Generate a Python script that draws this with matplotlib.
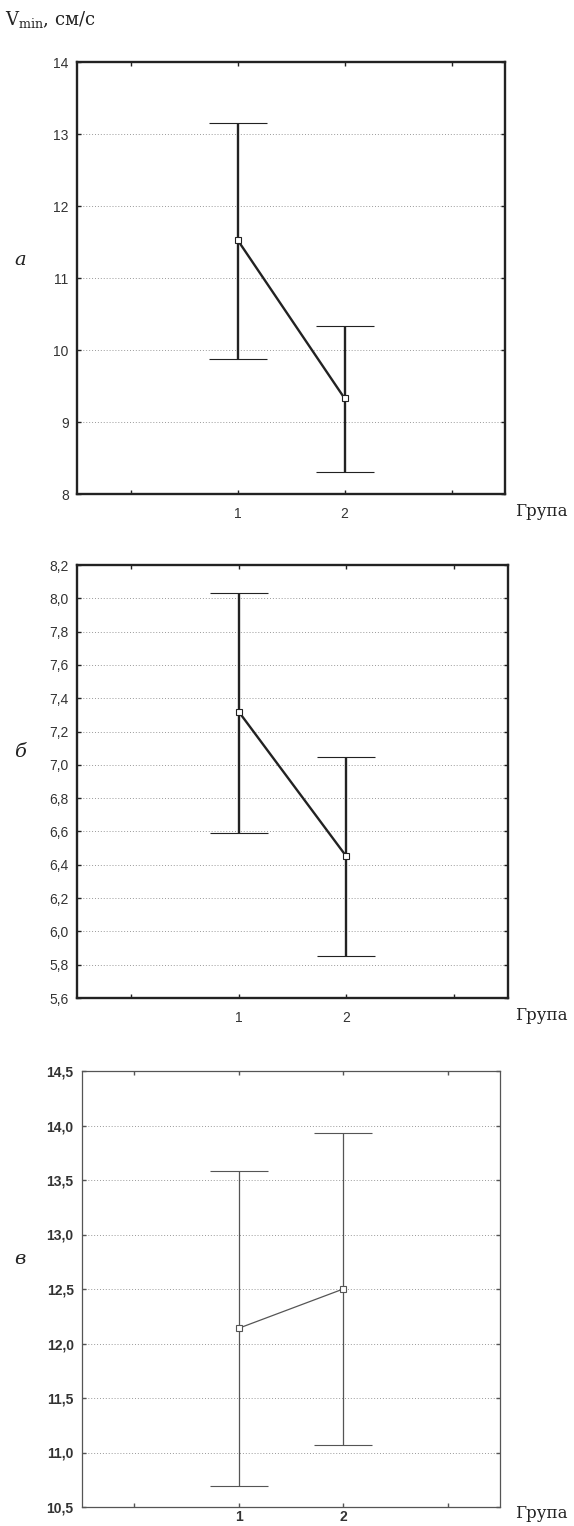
import matplotlib
matplotlib.use('Agg')
import matplotlib.pyplot as plt
from matplotlib.ticker import FuncFormatter

# Group means with confidence limits for three datasets
groups = [1, 2]

means_a = [11.53, 9.33]
upper_a = [13.15, 10.33]
lower_a = [9.87, 8.31]

means_b = [7.32, 6.45]
upper_b = [8.03, 7.05]
lower_b = [6.59, 5.85]

means_c = [12.14, 12.50]
upper_c = [13.58, 13.93]
lower_c = [10.69, 11.07]

yticks_a = [8, 9, 10, 11, 12, 13, 14]
yticks_b = [5.6, 5.8, 6.0, 6.2, 6.4, 6.6, 6.8, 7.0, 7.2, 7.4, 7.6, 7.8, 8.0, 8.2]
yticks_c = [10.5, 11.0, 11.5, 12.0, 12.5, 13.0, 13.5, 14.0, 14.5]

W, H = 574, 1526
fig = plt.figure(figsize=(W / 100, H / 100), dpi=100)

serif = ['DejaVu Serif']
sans = ['Liberation Sans', 'DejaVu Sans']
plt.rcParams['mathtext.fontset'] = 'dejavuserif'


def px_axes(left, top, right, bottom):
    return fig.add_axes([left / W, 1 - bottom / H, (right - left) / W, (bottom - top) / H])


def draw_panel(ax, means, upper, lower, yticks, fmt, lw, color, label_weight, xpad):
    yerr = [[m - lo for m, lo in zip(means, lower)],
            [up - m for m, up in zip(means, upper)]]
    ax.errorbar(groups, means, yerr=yerr, color=color, lw=lw, elinewidth=lw,
                capsize=21, capthick=lw * 1.3, marker='s', ms=4.5, mfc='white',
                mec=color, mew=0.8, zorder=3)
    ax.set_xlim(-0.5, 3.5)
    ax.set_ylim(yticks[0], yticks[-1])
    ax.set_xticks([0, 1, 2, 3])
    ax.set_xticklabels(['', '1', '2', ''])
    ax.set_yticks(yticks)
    ax.yaxis.set_major_formatter(FuncFormatter(fmt))
    ax.grid(axis='y', ls=(0, (1, 2)), color='#9a9a9a', lw=0.7)
    ax.tick_params(direction='in', length=3, width=1.0, top=True, right=True,
                   labelsize=10, labelcolor='#333333', color=color, pad=6)
    ax.tick_params(axis='x', pad=xpad)
    for lab in ax.get_xticklabels() + ax.get_yticklabels():
        lab.set_family(sans)
        lab.set_fontweight(label_weight)
    for sp in ax.spines.values():
        sp.set_linewidth(lw)
        sp.set_color(color)


ax_a = px_axes(77, 62, 505, 494)
draw_panel(ax_a, means_a, upper_a, lower_a, yticks_a,
           lambda v, p: f'{v:.0f}', 1.7, '#222222', 'normal', 9)

ax_b = px_axes(77, 565, 508, 998)
draw_panel(ax_b, means_b, upper_b, lower_b, yticks_b,
           lambda v, p: f'{v:.1f}'.replace('.', ','), 1.7, '#222222', 'normal', 9)

ax_c = px_axes(82, 1071, 500, 1507)
draw_panel(ax_c, means_c, upper_c, lower_c, yticks_c,
           lambda v, p: f'{v:.1f}'.replace('.', ','), 0.9, '#555555', 'bold', 2)

# axis caption and panel letters
fig.text(5 / W, 1 - 20 / H, r'$\mathrm{V}_{\mathrm{min}}$, см/с', family=serif,
         fontsize=13, va='center', ha='left', color='#222222')
for y in (512, 1016, 1514):
    fig.text(515 / W, 1 - y / H, 'Група', family=serif, fontsize=12,
             va='center', ha='left', color='#222222')
for y, letter in ((260, 'а'), (752, 'б'), (1259, 'в')):
    fig.text(20 / W, 1 - y / H, letter, family=serif, style='italic',
             fontsize=14, va='center', ha='center', color='#222222')

fig.savefig('out.png', dpi=100)
